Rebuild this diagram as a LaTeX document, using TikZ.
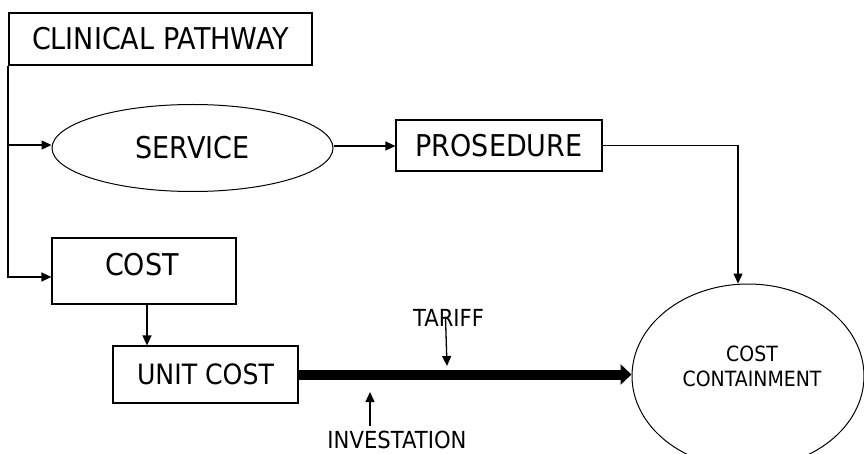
\documentclass[tikz,border=0pt]{standalone}
\usepackage{fontspec}
\setmainfont{DejaVu Sans}[FakeStretch=0.9]
\usetikzlibrary{shapes.geometric,arrows.meta}
\begin{document}
\begin{tikzpicture}[x=1pt,y=-1pt,
  every node/.style={inner sep=0pt, text=black},
  box/.style={draw, rectangle, line width=1.2pt, fill=white},
  oval/.style={draw, ellipse, line width=1pt, fill=white},
  conn/.style={line width=1.3pt, -{Triangle[length=10pt,width=9pt]}},
  bigconn/.style={line width=10pt, -{Triangle[length=11pt,width=20pt]}},
  big/.style={font=\fontsize{30pt}{36pt}\selectfont},
  mid/.style={font=\fontsize{28pt}{34pt}\selectfont},
  small/.style={font=\fontsize{23.5pt}{28pt}\selectfont},
  tiny/.style={font=\fontsize{21pt}{25pt}\selectfont}]
\useasboundingbox (0,0) rectangle (864,454);

% boxes and ovals
\node[box, line width=2.2pt, minimum width=303pt, minimum height=52pt, big] (cp) at (160.5,39) {CLINICAL PATHWAY};
\node[oval, minimum width=281pt, minimum height=87pt, big] (service) at (192.5,148) {SERVICE};
\node[box, minimum width=206pt, minimum height=51pt, big] (prosedure) at (499,145.5) {PROSEDURE};
\node[box, minimum width=184pt, minimum height=66pt] (cost) at (144,271) {};
\node[big] (costtext) at (142,265) {COST};
\node[box, minimum width=185pt, minimum height=57pt, mid] (unit) at (205.5,374.5) {UNIT COST};
\node[oval, minimum width=232pt, minimum height=184pt] (cc) at (748,376) {};
\node[tiny, align=center] (cctext) at (752,366) {COST\\CONTAINMENT};

% side labels
\node[small] (tariff) at (448.5,317.5) {TARIFF};
\node[small] (invest) at (397,440) {INVESTATION};
\coordinate (tarifftip) at (447,366);
\coordinate (investtail) at (370,426);
\coordinate (investtip) at (370,392);

% connectors
\draw[conn] (cp.south west) |- ([yshift=3pt]service.west);
\draw[conn] (cp.south west) |- ([yshift=-6pt]cost.west);
\draw[conn] ([yshift=2pt]service.east) -- ([yshift=2pt]service.east -| prosedure.west);
\draw[conn] (prosedure.east) -| ([xshift=-10pt]cc.north);
\draw[conn] ([xshift=3pt]cost.south) -- ([xshift=3pt]cost.south |- unit.north);
\draw[bigconn] (unit.east) -- (unit.east -| cc.west);
\draw[conn] ([xshift=-3pt]tariff.center) -- (tarifftip);
\draw[conn] (investtail) -- (investtip);
\end{tikzpicture}
\end{document}
